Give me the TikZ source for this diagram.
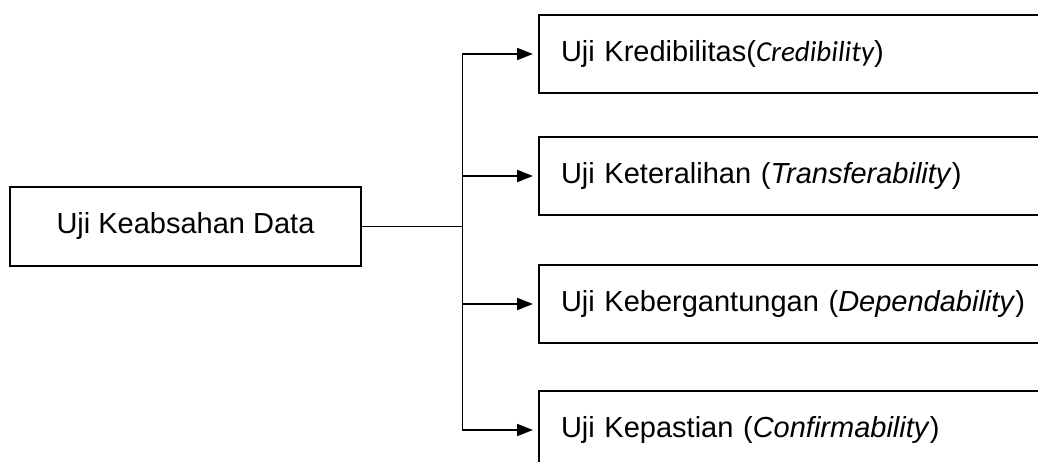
\documentclass[tikz,border=0pt]{standalone}
\usepackage{fontspec}
\setmainfont{Liberation Sans}
\newfontfamily\calibrifont{Carlito}
\usetikzlibrary{arrows.meta}

\begin{document}
\begin{tikzpicture}[x=1pt, y=-1pt,
    font=\fontsize{29}{34}\selectfont,
    mainbox/.style={rectangle, draw=black, line width=2pt, minimum width=351pt, minimum height=79pt, align=center, inner sep=0pt},
    testbox/.style={rectangle, draw=black, line width=2pt, anchor=west, minimum height=78pt, text width=520pt, inner xsep=22pt, inner ysep=0pt, align=left},
    link/.style={line width=1pt, draw=black},
    arrow/.style={-{Triangle[length=16pt, width=12pt]}, line width=2pt, draw=black, shorten >=5pt}
]
    \useasboundingbox (0,0) rectangle (1038,461);

    % Nodes
    \node[mainbox] (data) at (185.5,226) {Uji Keabsahan Data};
    \node[testbox] (cred) at (538,54) {Uji Kredibilitas({\calibrifont\itshape Credibility})};
    \node[testbox] (trans) at (538,176) {Uji Keteralihan (\textit{Transferability})};
    \node[testbox] (dep) at (538,304) {Uji Kebergantungan (\textit{Dependability})};
    \node[testbox] (conf) at (538,430) {Uji Kepastian (\textit{Confirmability})};
    \coordinate (split) at (462,226);

    % Lines
    \draw[link] (data) -- (split);
    \draw[link] (split |- cred.west) -- (split |- conf.west);

    % Arrows
    \draw[arrow] (split |- cred.west) -- (cred);
    \draw[arrow] (split |- trans.west) -- (trans);
    \draw[arrow] (split |- dep.west) -- (dep);
    \draw[arrow] (split |- conf.west) -- (conf);
\end{tikzpicture}
\end{document}
